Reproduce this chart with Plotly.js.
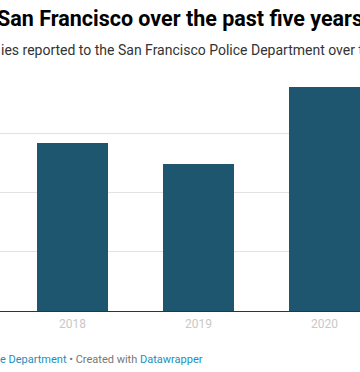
<!DOCTYPE html>
<html>
<head>
<meta charset="utf-8">
<script src="https://cdn.plot.ly/plotly-3.0.1.min.js"></script>
<style>
html,body{margin:0;padding:0;background:#fff;}
#chart{width:360px;height:372px;}
</style>
</head>
<body>
<div id="chart"></div>
<script>
// Data (gridline step = 1000 units; axis labels are cropped out)
const years = ['2018', '2019', '2020'];
const counts = [2835, 2480, 3780];
const gridStep = 1000;
const yMax = 4000;

const titleText = 'San Francisco over the past five years';
const subtitleText = 'ies reported to the San Francisco Police Department over t';
const sourceText = 'e Department';
const creditLead = ' \u2022 Created with ';
const creditName = 'Datawrapper';

const barColor = '#1d566e';

const trace = {
  type: 'bar',
  x: years,
  y: counts,
  marker: {color: barColor, line: {width: 0}},
  hoverinfo: 'skip'
};

// plot area: y from 74 to 311 px (height 237)
const plotTop = 74, plotBottom = 311, plotH = plotBottom - plotTop;
function py(px) { return (plotBottom - px) / plotH; }

const layout = {
  width: 360,
  height: 372,
  margin: {l: 0, r: 0, t: plotTop, b: 372 - plotBottom, pad: 0},
  paper_bgcolor: '#ffffff',
  plot_bgcolor: '#ffffff',
  font: {family: 'Roboto, sans-serif'},
  showlegend: false,
  bargap: 0.4365,
  xaxis: {
    type: 'category',
    range: [-0.5754, 2.2817],
    showgrid: false,
    zeroline: false,
    showline: true,
    linecolor: '#333333',
    linewidth: 1,
    ticks: '',
    ticklabelstandoff: 2,
    tickfont: {family: 'Roboto, sans-serif', size: 12, color: '#c8c8c8'},
    fixedrange: true
  },
  yaxis: {
    range: [0, yMax],
    dtick: gridStep,
    tick0: 0,
    showgrid: true,
    gridcolor: '#e2e2e2',
    gridwidth: 1,
    zeroline: false,
    showticklabels: false,
    ticks: '',
    fixedrange: true
  },
  annotations: [
    {
      xref: 'paper', yref: 'paper',
      x: -3 / 360, y: py(31),
      xanchor: 'left', yanchor: 'bottom',
      showarrow: false,
      borderpad: 0, borderwidth: 0,
      text: '<b>' + titleText + '</b>',
      font: {family: 'Roboto, sans-serif', size: 21.5, color: '#000000'}
    },
    {
      xref: 'paper', yref: 'paper',
      x: 1 / 360, y: py(58),
      xanchor: 'left', yanchor: 'bottom',
      showarrow: false,
      borderpad: 0, borderwidth: 0,
      text: subtitleText,
      font: {family: 'Roboto, sans-serif', size: 14, color: '#333333'}
    },
    {
      xref: 'paper', yref: 'paper',
      x: 0, y: py(366),
      xanchor: 'left', yanchor: 'bottom',
      showarrow: false,
      borderpad: 0, borderwidth: 0,
      text: '<span style="color:#1d8fbd">' + sourceText + '</span>' +
            '<span style="color:#777777">' + creditLead + '</span>' +
            '<span style="color:#1d8fbd">' + creditName + '</span>',
      font: {family: 'Roboto, sans-serif', size: 11, color: '#777777'}
    }
  ]
};

Plotly.newPlot('chart', [trace], layout, {displayModeBar: false, staticPlot: true});
</script>
</body>
</html>
